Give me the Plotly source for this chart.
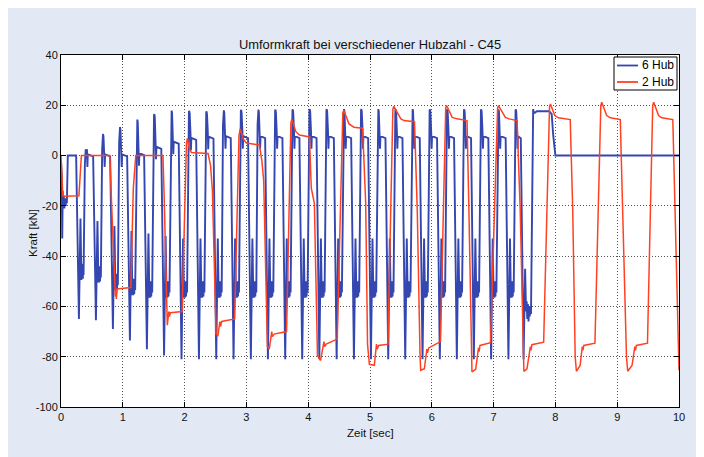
import plotly.graph_objects as go

# ---------------- data ----------------
# 2 Hub (red) : time [s], force [kN]
red_t = [0.000, 0.005, 0.012, 0.020, 0.030, 0.050, 0.290, 0.330, 0.790, 0.820, 0.860, 0.880, 0.890, 0.895, 0.910,
         0.940, 1.130, 1.170, 1.210, 1.650, 1.670, 1.710, 1.720, 1.745, 1.755, 1.770, 1.960, 2.030, 2.045,
         2.080, 2.110, 2.380, 2.420, 2.450, 2.510, 2.540, 2.570, 2.580, 2.600, 2.810, 2.880, 2.900, 2.950,
         3.000, 3.210, 3.250, 3.280, 3.340, 3.370, 3.410, 3.420, 3.450, 3.650, 3.720, 3.735, 3.800, 3.860,
         4.020, 4.050, 4.100, 4.150, 4.200, 4.255, 4.265, 4.290, 4.470, 4.560, 4.575, 4.660, 4.740, 4.880,
         4.930, 4.960, 4.990, 5.070, 5.105, 5.115, 5.140, 5.290, 5.370, 5.385, 5.500, 5.550, 5.720, 5.765,
         5.810, 5.820, 5.880, 5.920, 5.930, 5.950, 6.140, 6.225, 6.240, 6.330, 6.410, 6.570, 6.600, 6.640,
         6.650, 6.710, 6.755, 6.765, 6.780, 6.950, 7.065, 7.080, 7.190, 7.250, 7.380, 7.430, 7.480, 7.490,
         7.540, 7.595, 7.605, 7.620, 7.810, 7.905, 7.920, 7.990, 8.050, 8.240, 8.280, 8.320, 8.340, 8.400,
         8.435, 8.445, 8.460, 8.640, 8.735, 8.750, 8.830, 8.890, 9.050, 9.090, 9.150, 9.170, 9.240, 9.285,
         9.295, 9.310, 9.490, 9.575, 9.590, 9.670, 9.720, 9.900, 9.940, 10.000]
red_v = [0.0, -3.0, -2.0, -12.0, -16.0, -16.2, -16.0, 0.0, 0.0, -20.0, -50.0, -56.0, -53.0, -57.0, -53.0,
         -53.0, -52.5, -13.0, 0.0, 0.0, -17.0, -66.0, -67.5, -62.0, -64.0, -62.5, -62.0, 5.0, 6.8,
         2.5, 1.2, 0.8, -4.0, -14.0, -71.0, -71.5, -66.0, -68.0, -66.0, -65.0, 8.0, 10.6, 6.5,
         5.0, 4.2, -2.0, -10.0, -76.0, -77.0, -70.0, -72.0, -71.0, -70.0, 13.0, 14.5, 9.5, 8.2,
         7.4, -13.0, -19.0, -79.5, -81.5, -74.0, -76.0, -75.0, -73.0, 17.0, 18.0, 12.6, 11.3, 10.9,
         -18.5, -75.0, -83.0, -83.4, -75.0, -77.0, -75.5, -75.0, 18.5, 19.6, 14.6, 13.9, 13.5, -22.0,
         -80.0, -85.4, -84.8, -77.0, -78.5, -76.5, -74.0, 19.0, 19.9, 15.2, 14.6, 13.9, -21.0, -80.0,
         -86.0, -85.0, -76.5, -78.0, -75.5, -74.4, 19.0, 19.9, 15.2, 14.6, 13.9, -21.0, -80.0, -85.8,
         -84.8, -76.0, -77.5, -75.2, -74.2, 19.5, 20.5, 15.9, 15.0, 14.3, -21.0, -80.0, -85.8, -83.5,
         -76.0, -77.5, -75.5, -74.6, 20.0, 21.2, 15.9, 15.0, 14.3, -21.0, -80.0, -85.8, -83.5, -76.0,
         -77.5, -75.5, -74.6, 20.0, 21.2, 15.9, 15.0, 14.3, -22.5, -85.4]

# 6 Hub (blue) : start-up segment
blue_start_t = [0.000, 0.012, 0.020, 0.028, 0.035, 0.045, 0.055, 0.065, 0.075, 0.085, 0.095, 0.110, 0.245]
blue_start_v = [-2.0, -8.0, -33.0, -14.0, -20.0, -16.0, -21.0, -17.0, -20.0, -18.0, -19.0, 0.0, 0.0]

# 6 Hub (blue) : one entry per stroke (minimum, rebound spike, ringing level, peak, plateau)
stroke_min_t = [0.290, 0.565, 0.840, 1.115, 1.390, 1.668, 1.950, 2.232, 2.512, 2.792, 3.072, 3.348, 3.628,
                3.903, 4.180, 4.460, 4.740, 5.015, 5.295, 5.570, 5.850, 6.130, 6.405, 6.680, 6.960, 7.240]
stroke_min_v = [-65.0, -65.5, -69.0, -73.5, -77.0, -79.5, -81.0, -81.0, -81.0, -81.0, -81.0, -81.0, -81.0,
                -81.0, -81.0, -81.0, -81.0, -81.0, -81.0, -81.0, -81.0, -81.0, -81.0, -81.0, -81.0, -81.0]
stroke_spike_v = [-25.0, -26.0, -28.0, -30.0, -31.0, -32.0, -33.0, -33.0, -33.0, -33.0, -33.0, -33.0, -33.0,
                  -33.0, -33.0, -33.0, -33.0, -33.0, -33.0, -33.0, -33.0, -33.0, -33.0, -33.0, -33.0, -33.0]
stroke_ring_v = [-46.0, -47.0, -50.0, -52.0, -53.0, -53.0, -53.0, -53.0, -53.0, -53.0, -53.0, -53.0, -53.0,
                 -53.0, -53.0, -53.0, -53.0, -53.0, -53.0, -53.0, -53.0, -53.0, -53.0, -53.0, -53.0, -53.0]
stroke_peak_t = [0.400, 0.680, 0.955, 1.235, 1.510, 1.790, 2.075, 2.355, 2.635, 2.915, 3.195, 3.470, 3.750,
                 4.025, 4.300, 4.580, 4.860, 5.135, 5.415, 5.690, 5.970, 6.250, 6.525, 6.800, 7.080, 7.360]
stroke_peak_v = [2.5, 8.6, 11.3, 14.3, 16.5, 17.9, 17.8, 17.6, 18.0, 18.2, 18.3, 18.3, 18.4,
                 18.5, 18.5, 18.5, 18.5, 18.5, 18.5, 18.5, 18.4, 18.4, 18.4, 18.4, 18.4, 18.4]
stroke_plateau_v = [0.0, 0.0, 0.0, 0.5, 3.0, 5.0, 6.5, 7.0, 7.2, 7.2, 7.2, 7.2, 7.2,
                    7.2, 7.2, 7.2, 7.2, 7.2, 7.2, 7.2, 7.2, 7.2, 7.2, 7.2, 7.2, 7.2]

# 6 Hub (blue) : last stroke, hold and stop
blue_end_t = [7.485, 7.510, 7.525, 7.535, 7.545, 7.555, 7.565, 7.575, 7.585, 7.595, 7.605, 7.640, 7.650,
              7.665, 7.700, 7.900, 7.940, 7.965, 8.000, 10.000]
blue_end_v = [-81.0, -45.0, -62.0, -58.0, -65.0, -59.0, -66.0, -60.0, -64.0, -61.0, -63.0, 18.5, 17.2,
              17.0, 17.6, 17.6, 16.5, 8.0, 0.0, 0.0]

x_ticks = [0, 1, 2, 3, 4, 5, 6, 7, 8, 9, 10]
y_ticks = [-100, -80, -60, -40, -20, 0, 20, 40]
series_names = ["6 Hub", "2 Hub"]
series_colors = ["#3446b0", "#ff4122"]

# ---------------- assemble blue polyline from the stroke readings ----------------
ring_wiggle = [-3.5, 3.0, -3.5, 3.0, -3.0, 2.5, -1.5]
bx, by = list(blue_start_t), list(blue_start_v)
n = len(stroke_min_t)
for i in range(n):
    m, p = stroke_min_t[i], stroke_peak_t[i]
    rv, pv, pl = stroke_ring_v[i], stroke_peak_v[i], stroke_plateau_v[i]
    nxt = stroke_min_t[i + 1] if i + 1 < n else blue_end_t[0]
    bx += [m, m + 0.025]
    by += [stroke_min_v[i], stroke_spike_v[i]]
    r0, r1 = m + 0.040, p - 0.035
    k = len(ring_wiggle)
    for j, w in enumerate(ring_wiggle):
        bx.append(r0 + (r1 - r0) * j / (k - 1))
        by.append(rv + w)
    bx += [p - 0.014, p - 0.005, p, p + 0.007, p + 0.020, p + 0.027, p + 0.034, nxt - 0.045]
    by += [pv - 6.0, pv - 0.5, pv, pv - 1.0, pl + 2.5, pl - 4.5, pl + 0.5, pl - 0.3]
bx += blue_end_t
by += blue_end_v

# ---------------- figure (page body adds an 8 px offset) ----------------
W, H = 696, 449
ML, MR, MT, MB = 53, 25, 47, 50
PW, PH = W - ML - MR, H - MT - MB
BG = "#e2e9f4"
FONT = "Liberation Sans, Arial, Helvetica, sans-serif"


def px_x(x):  # figure px -> paper x
    return (x - ML) / PW


def px_y(y):  # figure px -> paper y
    return 1 - (y - MT) / PH


fig = go.Figure()
fig.add_trace(go.Scatter(x=bx, y=by, mode="lines", name=series_names[0],
                         line=dict(color=series_colors[0], width=1.9), showlegend=False))
fig.add_trace(go.Scatter(x=red_t, y=red_v, mode="lines", name=series_names[1],
                         line=dict(color=series_colors[1], width=1.5), showlegend=False))

axis_common = dict(showline=True, linecolor="black", linewidth=1, mirror="ticks",
                   ticks="inside", ticklen=5, tickcolor="black", tickwidth=1,
                   showgrid=True, gridcolor="rgba(40,40,40,0.8)", griddash="1px,2px", gridwidth=1,
                   zeroline=False, tickfont=dict(family=FONT, size=11, color="#111"))
fig.update_xaxes(range=[0, 10], tickvals=x_ticks, ticktext=[str(v) for v in x_ticks], **axis_common)
fig.update_yaxes(range=[-100, 40], tickvals=y_ticks, ticktext=[str(v) for v in y_ticks], **axis_common)

# legend box (MATLAB style) drawn in the corner of the axes
leg_x0, leg_x1, leg_y0, leg_y1 = px_x(606), px_x(669), px_y(82), px_y(49)
rows_y = [px_y(57.5), px_y(74)]
shapes = [dict(type="rect", xref="paper", yref="paper", x0=leg_x0, x1=leg_x1, y0=leg_y0, y1=leg_y1,
               fillcolor="white", line=dict(color="black", width=1), layer="above")]
annotations = []
for name, col, ry in zip(series_names, series_colors, rows_y):
    shapes.append(dict(type="line", xref="paper", yref="paper", x0=px_x(609), x1=px_x(630), y0=ry, y1=ry,
                       line=dict(color=col, width=1.8), layer="above"))
    annotations.append(dict(text=name, xref="paper", yref="paper", x=px_x(667.5), y=ry, showarrow=False,
                            xanchor="right", yanchor="middle",
                            font=dict(family=FONT, size=12, color="black")))

annotations += [
    dict(text="Zeit [sec]", xref="paper", yref="paper", x=0.5, y=px_y(425), showarrow=False,
         xanchor="center", yanchor="middle", font=dict(family=FONT, size=11.5, color="#111")),
    dict(text="Kraft [kN]", xref="paper", yref="paper", x=px_x(25), y=px_y(225), showarrow=False,
         xanchor="center", yanchor="middle", textangle=-90, font=dict(family=FONT, size=11.5, color="#111")),
]

fig.update_layout(
    width=W, height=H,
    margin=dict(l=ML, r=MR, t=MT, b=MB, pad=0),
    paper_bgcolor=BG, plot_bgcolor="white",
    showlegend=False,
    title=dict(text="Umformkraft bei verschiedener Hubzahl - C45", x=(ML + PW / 2) / W, xanchor="center",
               xref="container", yref="container", y=1 - 36 / H, yanchor="middle",
               font=dict(family=FONT, size=12.9, color="#111")),
    annotations=annotations,
    shapes=shapes,
)

fig.write_html("out.html")
